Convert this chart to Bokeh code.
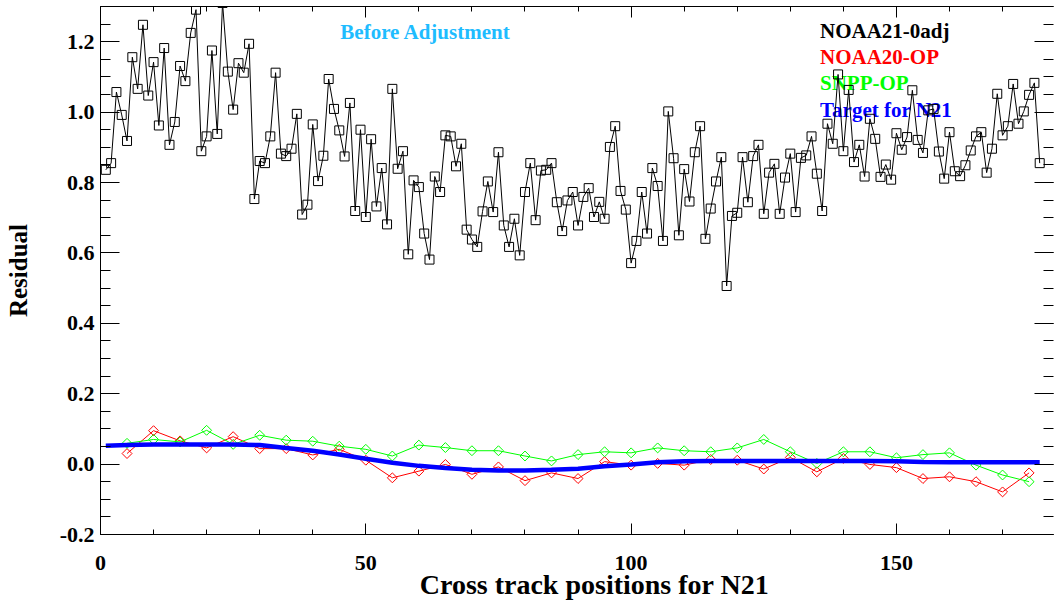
from bokeh.plotting import figure
from bokeh.models import LinearAxis, Range1d, PrintfTickFormatter, FixedTicker, CustomLabelingPolicy
from bokeh.core.properties import value
from bokeh.embed import file_html
from bokeh.resources import INLINE

# ---------------- data ----------------
n21_x = list(range(1, 178))
n21_y = [0.836, 0.855, 1.057, 0.992, 0.918, 1.156, 1.066, 1.248, 1.047, 1.142,
         0.962, 1.182, 0.907, 0.972, 1.131, 1.088, 1.225, 1.291, 0.889, 0.931,
         1.175, 0.938, 1.310, 1.115, 1.007, 1.139, 1.112, 1.194, 0.753, 0.861,
         0.855, 0.931, 1.112, 0.882, 0.875, 0.896, 0.995, 0.709, 0.737, 0.965,
         0.804, 0.876, 1.094, 1.009, 0.948, 0.874, 1.026, 0.719, 0.950, 0.702,
         0.923, 0.732, 0.841, 0.681, 1.066, 0.839, 0.889, 0.596, 0.806, 0.787,
         0.655, 0.581, 0.817, 0.773, 0.934, 0.931, 0.846, 0.910, 0.666, 0.638,
         0.617, 0.718, 0.803, 0.716, 0.886, 0.678, 0.617, 0.697, 0.593, 0.773,
         0.855, 0.693, 0.834, 0.836, 0.855, 0.744, 0.662, 0.749, 0.773, 0.678,
         0.759, 0.784, 0.702, 0.745, 0.697, 0.901, 0.960, 0.776, 0.723, 0.571,
         0.634, 0.773, 0.655, 0.841, 0.790, 0.634, 1.002, 0.869, 0.650, 0.838,
         0.746, 0.886, 0.960, 0.640, 0.726, 0.803, 0.872, 0.506, 0.705, 0.714,
         0.872, 0.744, 0.875, 0.907, 0.711, 0.828, 0.853, 0.711, 0.814, 0.882,
         0.716, 0.870, 0.877, 0.931, 0.825, 0.719, 0.967, 0.910, 1.107, 0.889,
         1.063, 0.858, 0.907, 0.817, 0.981, 0.924, 0.816, 0.851, 0.808, 0.940,
         0.893, 0.929, 1.062, 0.921, 0.884, 1.005, 1.009, 0.888, 0.811, 0.943,
         0.832, 0.818, 0.849, 0.891, 0.931, 0.943, 0.828, 0.896, 1.052, 0.934,
         0.960, 1.080, 0.967, 1.002, 1.049, 1.083, 0.855]

op_x = list(range(5, 180, 5))
n20_y = [0.030, 0.095, 0.066, 0.046, 0.078, 0.044, 0.044, 0.026, 0.042, 0.011,
         -0.039, -0.020, -0.001, -0.029, -0.008, -0.047, -0.025, -0.041, 0.007, -0.003,
         0.002, -0.003, 0.013, 0.011, -0.014, 0.019, -0.022, 0.016, -0.001, -0.010,
         -0.041, -0.036, -0.050, -0.079, -0.025]
snpp_y = [0.059, 0.070, 0.063, 0.096, 0.056, 0.082, 0.068, 0.065, 0.051, 0.042,
          0.023, 0.054, 0.047, 0.038, 0.038, 0.023, 0.009, 0.027, 0.035, 0.032,
          0.046, 0.038, 0.035, 0.046, 0.070, 0.035, 0.002, 0.035, 0.035, 0.018,
          0.027, 0.032, -0.003, -0.031, -0.050]

target_x = [1, 5, 10, 15, 20, 25, 30, 35, 40, 45, 50, 55, 60, 65, 70, 75, 80, 85, 90,
            95, 100, 105, 110, 115, 120, 125, 130, 135, 140, 145, 150, 155, 160, 165,
            170, 175, 177]
target_y = [0.052, 0.054, 0.056, 0.056, 0.056, 0.056, 0.054, 0.046, 0.038, 0.027,
            0.015, 0.004, -0.005, -0.011, -0.016, -0.018, -0.018, -0.016, -0.013,
            -0.006, -0.001, 0.005, 0.008, 0.009, 0.009, 0.009, 0.009, 0.009, 0.009,
            0.009, 0.008, 0.006, 0.005, 0.005, 0.005, 0.005, 0.005]

x_ticks = [0, 50, 100, 150]
y_ticks = [-0.2, 0.0, 0.2, 0.4, 0.6, 0.8, 1.0, 1.2]

SERIF = "Liberation Serif"

# ---------------- figure ----------------
p = figure(width=1058, height=604, x_range=Range1d(0, 179.6), y_range=Range1d(-0.2, 1.3),
           output_backend="svg", toolbar_location=None,
           x_axis_location=None, y_axis_location=None,
           min_border_left=100, min_border_right=0, min_border_top=6, min_border_bottom=70)
p.outline_line_color = None
p.xgrid.visible = False
p.ygrid.visible = False
p.background_fill_color = "white"
p.border_fill_color = "white"


def style_axis(ax, tick_in, minor_in, labels=True):
    ax.major_tick_in = tick_in
    ax.major_tick_out = 0
    ax.minor_tick_in = minor_in
    ax.minor_tick_out = 0
    ax.major_tick_line_color = "black"
    ax.minor_tick_line_color = "black"
    ax.axis_line_color = "black"
    if labels:
        ax.major_label_text_font = SERIF
        ax.major_label_text_font_style = "bold"
        ax.major_label_text_font_size = "22px"
        ax.major_label_text_color = "black"
        ax.axis_label_text_font = SERIF
        ax.axis_label_text_font_style = "bold"
        ax.axis_label_text_color = "black"
    else:
        ax.major_label_text_font_size = "1px"
        ax.major_label_standoff = 0
        ax.major_label_policy = CustomLabelingPolicy(
            code="for (const i of Array.from(indices)) { indices.unset(i) } return indices")


xt = FixedTicker(ticks=x_ticks, minor_ticks=list(range(0, 181, 10)))
yt = FixedTicker(ticks=y_ticks, minor_ticks=[round(-0.2 + 0.05 * i, 2) for i in range(31)])

bottom = LinearAxis(ticker=xt, axis_label="\u00a0\u00a0\u00a0\u00a0\u00a0Cross track positions for N21")
style_axis(bottom, 11, 5)
bottom.major_label_standoff = 21
bottom.axis_label_standoff = -4
bottom.axis_label_text_font_size = "28px"
p.add_layout(bottom, "below")

top = LinearAxis(ticker=xt)
style_axis(top, 11, 5, labels=False)
p.add_layout(top, "above")

left = LinearAxis(ticker=yt, formatter=PrintfTickFormatter(format="%.1f"), axis_label="Residual")
style_axis(left, 19, 10)
left.major_label_standoff = 6
left.axis_label_standoff = 25
left.axis_label_text_font_size = "25px"
p.add_layout(left, "left")

right = LinearAxis(ticker=yt)
style_axis(right, 19, 10, labels=False)
right.axis_line_color = None
p.add_layout(right, "right")

# ---------------- texts ----------------
p.text(x=[45.2], y=[1.227], text=["Before Adjustment"], text_color="#1ebcff",
       text_font=value(SERIF), text_font_style="bold", text_font_size="21px",
       text_baseline="alphabetic", text_align="left")
leg_names = ["NOAA21-0adj", "NOAA20-OP", "SNPP-OP", "Target for N21"]
leg_colors = ["black", "#ff0000", "#00ff00", "#0000ff"]
leg_y = [1.230, 1.156, 1.082, 1.006]
p.text(x=[135.6] * 4, y=leg_y, text=leg_names, text_color=leg_colors,
       text_font=value(SERIF), text_font_style="bold", text_font_size="21px",
       text_baseline="alphabetic", text_align="left")

# ---------------- series ----------------
p.line(n21_x, n21_y, line_color="black", line_width=1)
p.scatter(n21_x, n21_y, marker="square", size=9, fill_color=None,
          line_color="black", line_width=1)

p.line(op_x, n20_y, line_color="#ff0000", line_width=1)
p.scatter(op_x, n20_y, marker="square", angle=0.785398, size=7, fill_color=None,
          line_color="#ff0000", line_width=1)

p.line(op_x, snpp_y, line_color="#00ff00", line_width=1)
p.scatter(op_x, snpp_y, marker="square", angle=0.785398, size=7, fill_color=None,
          line_color="#00ff00", line_width=1)

p.line(target_x, target_y, line_color="#0000ff", line_width=4.5)

open("out.html", "w").write(file_html(p, INLINE))
